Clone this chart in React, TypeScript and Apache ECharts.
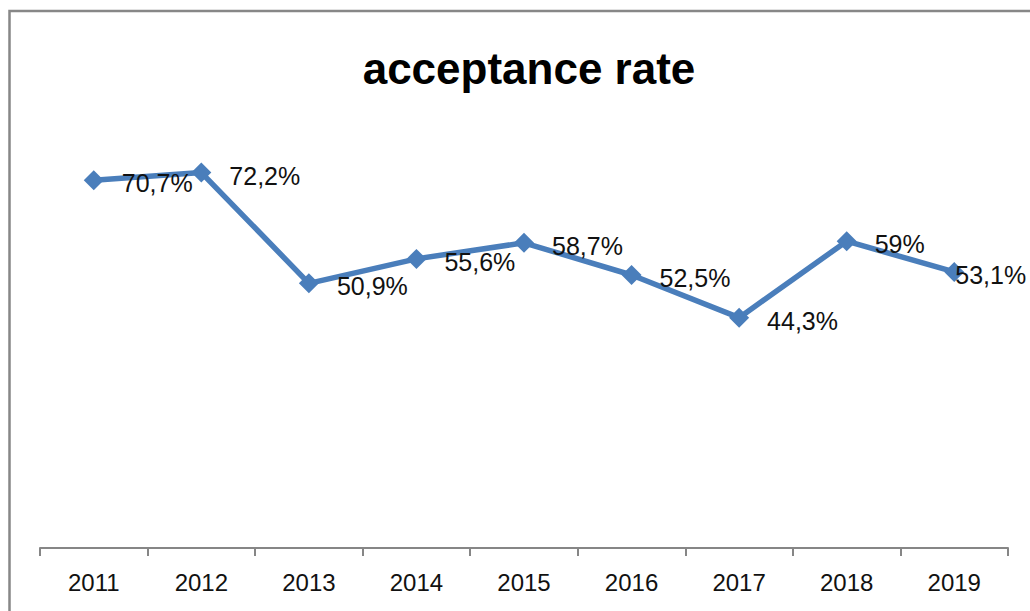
import React, { useEffect, useRef } from "react";
import * as echarts from "echarts";

const categories = ["2011", "2012", "2013", "2014", "2015", "2016", "2017", "2018", "2019"];
const values = [70.7, 72.2, 50.9, 55.6, 58.7, 52.5, 44.3, 59, 53.1];
const labelTexts = ["70,7%", "72,2%", "50,9%", "55,6%", "58,7%", "52,5%", "44,3%", "59%", "53,1%"];

const FONT = "'Liberation Sans', Arial, sans-serif";

export default function App() {
  const ref = useRef<HTMLDivElement>(null);
  useEffect(() => {
    if (!ref.current) return;
    const chart = echarts.init(ref.current, undefined, { renderer: "svg" });
    const data = values.map((v, i) => ({
      value: v,
      label: {
        distance: i === values.length - 1 ? -9 : 18,
        formatter: () => labelTexts[i],
      },
    }));
    chart.setOption({
      animation: false,
      backgroundColor: "#ffffff",
      title: {
        text: "acceptance rate",
        left: 524,
        textAlign: "center",
        top: 41,
        textStyle: { fontFamily: FONT, fontWeight: "bold", fontSize: 44, color: "#000" },
      },
      graphic: [
        {
          type: "rect",
          shape: { x: 9.5, y: 11, width: 1200, height: 800 },
          style: { fill: "none", stroke: "#878787", lineWidth: 2.5 },
          silent: true,
        },
      ],
      grid: { left: 40, right: 22, top: 132, bottom: 63 },
      xAxis: {
        type: "category",
        data: categories,
        boundaryGap: true,
        axisLine: { lineStyle: { color: "#868686", width: 2 } },
        axisTick: { show: true, length: 8, lineStyle: { color: "#868686", width: 2 } },
        axisLabel: { fontFamily: FONT, fontSize: 24, color: "#111", margin: 22 },
      },
      yAxis: {
        type: "value",
        min: 0,
        max: 80,
        show: false,
        splitLine: { show: false },
      },
      series: [
        {
          type: "line",
          data,
          symbol: "diamond",
          symbolSize: 20,
          itemStyle: { color: "#4A7EBB" },
          lineStyle: { color: "#4A7EBB", width: 5.5 },
          label: {
            show: true,
            position: "right",
            offset: [0, 3],
            fontFamily: FONT,
            fontSize: 25,
            color: "#111",
          },
        },
      ],
    });
    return () => chart.dispose();
  }, []);
  return (
    <div
      ref={ref}
      style={{ position: "fixed", left: 0, top: 0, width: 1030, height: 611, background: "#fff" }}
    />
  );
}
